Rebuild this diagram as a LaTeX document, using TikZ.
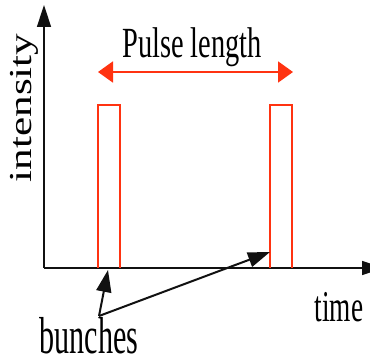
\documentclass[tikz,border=0pt]{standalone}
\usepackage{graphicx}
\usepackage{fontspec}
\setmainfont{Liberation Serif}
\usepackage{xcolor}
\usepackage{tikz}
\usetikzlibrary{arrows.meta,positioning}
\definecolor{pulsered}{HTML}{FF3311}
\definecolor{axisblack}{HTML}{111111}
\tikzset{
  vaxis/.style={-{Triangle[length=11pt,width=7pt]},line width=0.75pt,draw=axisblack},
  vpulse/.style={line width=0.75pt,draw=pulsered},
  vspan/.style={{Triangle[length=7.5pt,width=10.5pt]}-{Triangle[length=7.5pt,width=10.5pt]},line width=1pt,draw=pulsered,fill=pulsered},
  vpoint/.style={-{Triangle[length=11pt,width=7.5pt]},line width=1pt,draw=axisblack},
  vlabel/.style={inner sep=0pt,anchor=base}
}

\begin{document}
\begin{tikzpicture}[x=0.5pt,y=0.5pt]
  \clip (0,0) rectangle (370,364);
  \fill[white] (0,0) rectangle (370,364);
  % axes
  \coordinate (origin) at (44,96);
  \coordinate (ytip) at (44,359);
  \coordinate (xtip) at (384,96);
  \draw[vaxis] (origin) -- (ytip);
  \draw[vaxis] (origin) -- (xtip);
  % the two bunches
  \draw[vpulse] (98,96) |- (120,259) -- (120,96);
  \draw[vpulse] (270,96) |- (292,259) -- (292,96);
  % pulse length
  \coordinate (spanl) at (98,292);
  \coordinate (spanr) at (293,292);
  \draw[vspan] (spanl) -- (spanr);
  \node[vlabel,font=\fontsize{21.5}{24}\selectfont] (plen) at (192,306) {\scalebox{0.66}[1]{Pulse length}};
  % labels
  \node[vlabel,rotate=90,font=\fontsize{16}{18}\selectfont] (yname) at (32,256) {\scalebox{1.35}[1]{intensity}};
  \node[vlabel,font=\fontsize{22}{24}\selectfont] (xname) at (339,42) {\scalebox{0.62}[1]{time}};
  \node[vlabel,font=\fontsize{26}{28}\selectfont] (bunch) at (89,10) {\scalebox{0.58}[1]{bunches}};
  \coordinate (junc) at (99,48);
  \coordinate (hit1) at (108,94);
  \coordinate (hit2) at (270,112);
  \draw[vpoint] (junc) -- (hit1);
  \draw[vpoint] (junc) -- (hit2);
\end{tikzpicture}
\end{document}
